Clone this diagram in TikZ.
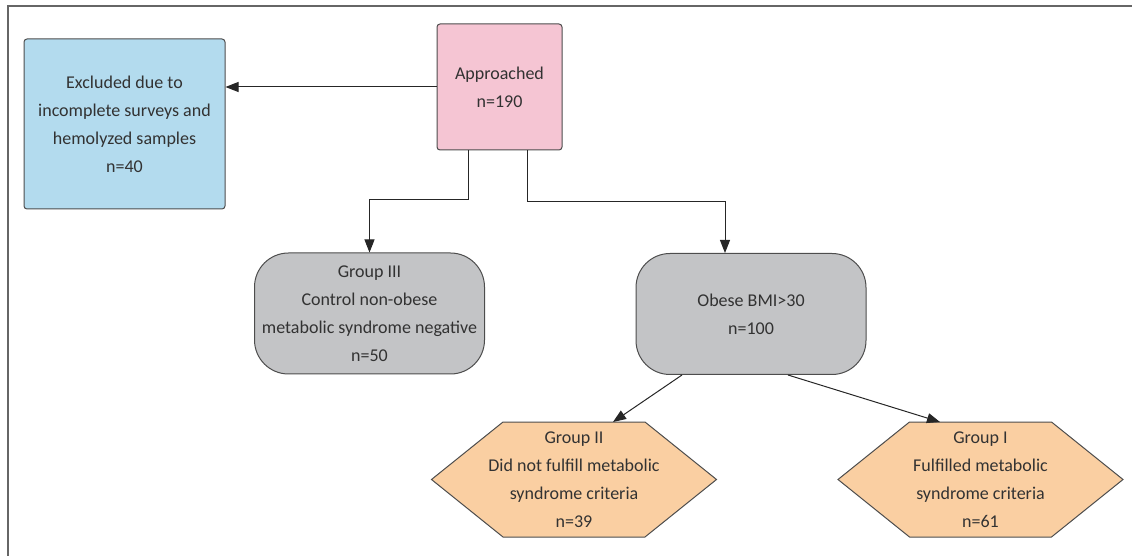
\documentclass[tikz,border=0pt]{standalone}
\usepackage{fontspec}
\setmainfont{Carlito}
\usetikzlibrary{arrows.meta, calc}
\definecolor{exclblue}{RGB}{179, 219, 238}
\definecolor{apprpink}{RGB}{245, 197, 211}
\definecolor{groupgray}{RGB}{195, 196, 198}
\definecolor{hexpeach}{RGB}{250, 207, 162}
\definecolor{edgegray}{RGB}{77, 77, 77}
\definecolor{textgray}{RGB}{50, 50, 50}

\tikzset{
  boxtext/.style={align=center, text=textgray, font=\fontsize{9}{14}\selectfont},
  squarebox/.style={boxtext, draw=edgegray, line width=0.5pt, rounded corners=1.5pt},
  roundbox/.style={boxtext, draw=edgegray, line width=0.5pt, fill=groupgray, rounded corners=17pt,
    minimum width=115pt, minimum height=60.5pt},
  hexline/.style={draw=edgegray, line width=0.5pt, fill=hexpeach},
  arrow/.style={-{Triangle[length=6.5pt, width=5pt]}, line width=0.5pt, draw=black!85}
}
% hexagon centred at (#1,#2), 285 x 115 px
\newcommand{\hexat}[2]{%
  \filldraw[hexline] (#1-142.5,#2) -- (#1-71,#2-57.5) -- (#1+71,#2-57.5)
    -- (#1+142.5,#2) -- (#1+71,#2+57.5) -- (#1-71,#2+57.5) -- cycle;}

\begin{document}
\begin{tikzpicture}[x=0.5pt, y=-0.5pt]
  \useasboundingbox (0,0) rectangle (1132,556);

  % frame (cropped: top and left only)
  \draw[gray!80!black, line width=0.8pt] (8,556) -- (8,6) -- (1132,6);

  % boxes
  \node[squarebox, fill=exclblue, minimum width=100.5pt, minimum height=85pt] (excl) at (124.5,124)
    {Excluded due to\\incomplete surveys and\\hemolyzed samples\\n=40};
  \node[squarebox, fill=apprpink, minimum width=62.5pt, minimum height=63pt] (appr) at (499.5,87)
    {Approached\\n=190};
  \node[roundbox] (grp3) at (369.5,313.5)
    {Group III\\Control non-obese\\metabolic syndrome negative\\n=50};
  \node[roundbox] (obese) at (751,314) {Obese BMI>30\\n=100};

  % hexagons
  \hexat{574}{479.5}
  \hexat{980.5}{479.5}
  \node[boxtext] (grp2) at (574,479.5)
    {Group II\\Did not fulfill metabolic\\syndrome criteria\\n=39};
  \node[boxtext] (grp1) at (980.5,479.5)
    {Group I\\Fulfilled metabolic\\syndrome criteria\\n=61};
  \coordinate (grp2top) at (613,422);
  \coordinate (grp1top) at (940,422);

  % connectors
  \draw[arrow] (appr.west) -- (appr.west -| excl.east);
  \draw[arrow] ([xshift=-15.75pt]appr.south) -- ++(0,49) -| (grp3.north);
  \draw[arrow] ([xshift=13.75pt]appr.south) -- ++(0,51) -| ([xshift=-13pt]obese.north);
  \draw[arrow] ([xshift=-34.5pt]obese.south) -- (grp2top);
  \draw[arrow] ([xshift=18.5pt]obese.south) -- (grp1top);

\end{tikzpicture}
\end{document}
